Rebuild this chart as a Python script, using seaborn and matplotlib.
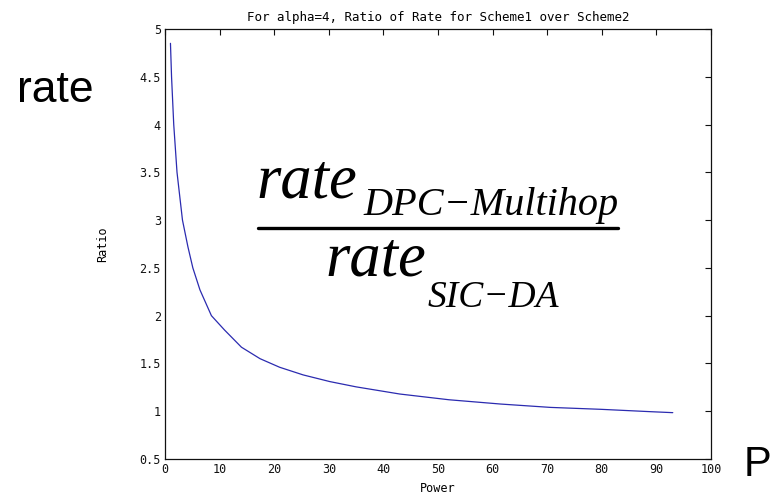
import matplotlib
matplotlib.use('Agg')
import matplotlib.pyplot as plt
from matplotlib.lines import Line2D
import seaborn as sns

# values
power = [1, 1.2, 1.6, 2.2, 3.2, 4.2, 5.1, 6.4, 8.5, 10.9, 14, 17.4, 21,
         25.3, 30.2, 35, 43, 52, 61.5, 70.6, 79.8, 89, 93]
ratio = [4.85, 4.5, 4.0, 3.5, 3.0, 2.72, 2.5, 2.27, 2.0, 1.85, 1.67, 1.55, 1.46,
         1.38, 1.31, 1.255, 1.18, 1.12, 1.075, 1.04, 1.02, 0.995, 0.985]
x_ticks = [0, 10, 20, 30, 40, 50, 60, 70, 80, 90, 100]
y_ticks = [0.5, 1, 1.5, 2, 2.5, 3, 3.5, 4, 4.5, 5]
y_tick_labels = ['0.5', '1', '1.5', '2', '2.5', '3', '3.5', '4', '4.5', '5']

sns.set_theme(style='white')
plt.rcParams['font.family'] = ['DejaVu Sans Mono', 'DejaVu Sans']
plt.rcParams['text.color'] = 'black'
plt.rcParams['axes.labelcolor'] = 'black'

W, H = 775, 500
fig = plt.figure(figsize=(W / 100, H / 100), dpi=100)
ax = fig.add_axes([165 / W, 41 / H, 546 / W, 430 / H])

sns.lineplot(x=power, y=ratio, ax=ax, color='#2b2bb0', linewidth=0.9)

ax.set_xlim(0, 100)
ax.set_ylim(0.5, 5)
ax.set_xticks(x_ticks)
ax.set_yticks(y_ticks)
ax.set_xticklabels([str(t) for t in x_ticks])
ax.set_yticklabels(y_tick_labels)
ax.tick_params(direction='in', top=True, right=True, length=4, width=0.8,
               labelsize=8.5, colors='#111111', pad=3)
for s in ax.spines.values():
    s.set_color('#111111')
    s.set_linewidth(0.9)

ax.set_title('For alpha=4, Ratio of Rate for Scheme1 over Scheme2', fontsize=9, pad=6)
ax.set_xlabel('Power', fontsize=8.5, labelpad=4)
ax.set_ylabel('Ratio', fontsize=8.5, labelpad=22)


def px(x, y):
    return x / W, 1 - y / H


# hand-written annotations on the slide
fig.text(*px(17, 102), 'rate', fontsize=32, family='Liberation Sans',
         ha='left', va='baseline')
fig.text(*px(744, 476), 'P', fontsize=30, family='Liberation Sans',
         ha='left', va='baseline')

serif = dict(family='Liberation Serif', style='italic', ha='left', va='baseline')
fig.text(*px(256, 197), 'rate', fontsize=45, **serif)
fig.text(*px(363, 215), 'DPC\u2212Multihop', fontsize=29, **serif)
fig.text(*px(325, 276), 'rate', fontsize=45, **serif)
fig.text(*px(428, 307), 'SIC\u2212DA', fontsize=27, **serif)
x0, y0 = px(258, 228)
x1, _ = px(618, 228)
fig.add_artist(Line2D([x0, x1], [y0, y0], transform=fig.transFigure,
                      color='black', linewidth=2.4))

fig.savefig('out.png', dpi=100)
